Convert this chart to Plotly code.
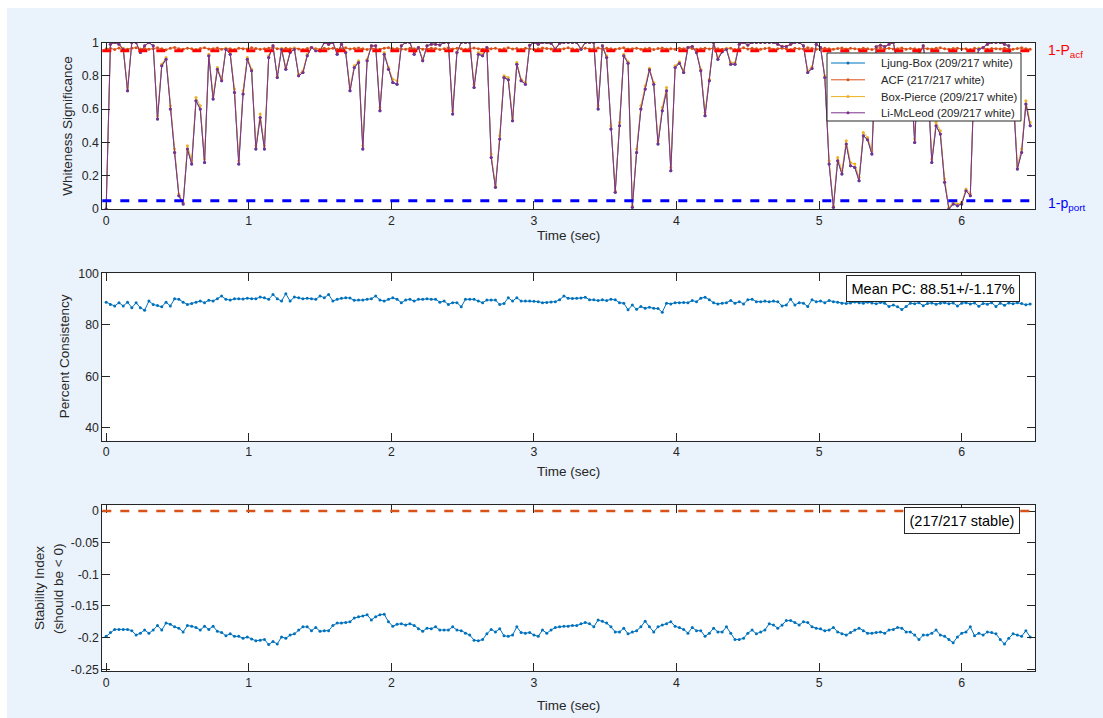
import plotly.graph_objects as go

W, H = 1103, 718
FONT = "Liberation Sans, Arial, Helvetica, sans-serif"
INK = "#262626"

# ---- data -------------------------------------------------------------
n_windows = 217
dt = 0.03
time_sec = [round(k * dt, 2) for k in range(n_windows)]

li_mcleod = [
    0.00, 0.99, 1.00, 0.99, 0.96, 0.71, 1.00, 1.00, 0.94, 0.98,
    1.00, 0.98, 0.54, 0.86, 0.90, 0.60, 0.34, 0.08, 0.03, 0.36,
    0.27, 0.65, 0.60, 0.28, 0.92, 0.66, 0.84, 0.77, 0.96, 0.93,
    0.70, 0.27, 0.69, 0.90, 0.83, 0.36, 0.55, 0.36, 0.91, 0.98,
    0.79, 0.96, 0.84, 0.94, 0.96, 0.80, 0.82, 0.92, 0.97, 0.95,
    0.95, 1.00, 0.99, 1.00, 0.93, 0.99, 0.94, 0.71, 0.85, 0.88,
    0.36, 0.89, 0.98, 0.98, 0.59, 0.93, 0.84, 0.76, 0.75, 0.98,
    1.00, 1.00, 0.93, 0.97, 0.89, 0.98, 0.99, 0.99, 0.985, 1.00,
    1.00, 0.57, 0.94, 1.00, 1.00, 1.00, 0.73, 0.93, 0.92, 0.97,
    0.31, 0.13, 0.42, 0.79, 0.776, 0.53, 0.87, 0.77, 0.75, 0.984,
    1.00, 0.99, 1.00, 1.00, 0.996, 0.96, 0.996, 1.00, 1.00, 1.00,
    1.00, 0.96, 1.00, 1.00, 1.00, 0.60, 0.98, 0.91, 0.48, 0.10,
    0.50, 0.92, 0.876, 0.01, 0.34, 0.60, 0.72, 0.836, 0.75, 0.39,
    0.59, 0.71, 0.23, 0.85, 0.876, 0.82, 0.97, 0.976, 0.94, 0.83,
    0.56, 0.77, 1.00, 0.90, 0.944, 0.96, 0.87, 0.87, 0.99, 1.00,
    0.985, 1.00, 1.00, 1.00, 1.00, 1.00, 1.00, 0.99, 0.976, 0.976,
    0.99, 1.00, 1.00, 0.98, 0.82, 0.844, 0.99, 0.97, 0.79, 0.27,
    0.01, 0.29, 0.21, 0.39, 0.26, 0.25, 0.17, 0.44, 0.416, 0.33,
    0.975, 0.984, 0.976, 0.99, 1.00, 0.88, 0.80, 0.90, 0.85, 0.40,
    0.93, 0.98, 0.80, 0.28, 0.50, 0.45, 0.16, 0.00, 0.03, 0.02,
    0.03, 0.11, 0.08, 0.85, 0.96, 0.97, 0.99, 1.00, 1.00, 1.00,
    0.99, 0.98, 0.70, 0.24, 0.34, 0.63, 0.50,
]

ljung_box = [
    0.00, 0.99, 1.00, 0.99, 0.96, 0.71, 1.00, 1.00, 0.94, 0.98,
    1.00, 0.98, 0.54, 0.86, 0.90, 0.60, 0.34, 0.08, 0.03, 0.36,
    0.27, 0.65, 0.60, 0.28, 0.92, 0.66, 0.84, 0.77, 0.96, 0.93,
    0.70, 0.27, 0.69, 0.90, 0.83, 0.36, 0.55, 0.36, 0.91, 0.98,
    0.79, 0.96, 0.84, 0.94, 0.96, 0.80, 0.82, 0.92, 0.97, 0.95,
    0.95, 1.00, 0.99, 1.00, 0.93, 0.99, 0.94, 0.71, 0.85, 0.88,
    0.36, 0.89, 0.98, 0.98, 0.59, 0.93, 0.84, 0.76, 0.75, 0.98,
    1.00, 1.00, 0.93, 0.97, 0.89, 0.98, 0.99, 0.99, 0.985, 1.00,
    1.00, 0.57, 0.94, 1.00, 1.00, 1.00, 0.73, 0.93, 0.92, 0.97,
    0.31, 0.13, 0.42, 0.79, 0.776, 0.53, 0.87, 0.77, 0.75, 0.984,
    1.00, 0.99, 1.00, 1.00, 0.996, 0.96, 0.996, 1.00, 1.00, 1.00,
    1.00, 0.96, 1.00, 1.00, 1.00, 0.60, 0.98, 0.91, 0.48, 0.10,
    0.50, 0.92, 0.876, 0.01, 0.34, 0.60, 0.72, 0.836, 0.75, 0.39,
    0.59, 0.71, 0.23, 0.85, 0.876, 0.82, 0.97, 0.976, 0.94, 0.83,
    0.56, 0.77, 1.00, 0.90, 0.944, 0.96, 0.87, 0.87, 0.99, 1.00,
    0.985, 1.00, 1.00, 1.00, 1.00, 1.00, 1.00, 0.99, 0.976, 0.976,
    0.99, 1.00, 1.00, 0.98, 0.82, 0.844, 0.99, 0.97, 0.79, 0.27,
    0.01, 0.29, 0.21, 0.39, 0.26, 0.25, 0.17, 0.44, 0.416, 0.33,
    0.975, 0.984, 0.976, 0.99, 1.00, 0.88, 0.80, 0.90, 0.85, 0.40,
    0.93, 0.98, 0.80, 0.28, 0.50, 0.45, 0.16, 0.00, 0.03, 0.02,
    0.03, 0.11, 0.08, 0.85, 0.96, 0.97, 0.99, 1.00, 1.00, 1.00,
    0.99, 0.98, 0.70, 0.24, 0.34, 0.63, 0.50,
]

box_pierce = [
    0.00, 0.99, 1.00, 0.99, 0.965, 0.73, 1.00, 1.00, 0.945, 0.98,
    1.00, 0.98, 0.56, 0.87, 0.91, 0.62, 0.36, 0.09, 0.04, 0.38,
    0.29, 0.67, 0.62, 0.30, 0.93, 0.68, 0.85, 0.78, 0.965, 0.94,
    0.72, 0.29, 0.71, 0.91, 0.84, 0.38, 0.57, 0.38, 0.92, 0.98,
    0.80, 0.965, 0.85, 0.945, 0.965, 0.81, 0.83, 0.93, 0.97, 0.955,
    0.955, 1.00, 0.99, 1.00, 0.94, 0.99, 0.945, 0.73, 0.86, 0.89,
    0.38, 0.90, 0.98, 0.98, 0.61, 0.94, 0.85, 0.78, 0.77, 0.98,
    1.00, 1.00, 0.94, 0.97, 0.90, 0.98, 0.99, 0.99, 0.985, 1.00,
    1.00, 0.59, 0.945, 1.00, 1.00, 1.00, 0.75, 0.94, 0.93, 0.97,
    0.33, 0.14, 0.44, 0.80, 0.79, 0.55, 0.88, 0.78, 0.76, 0.985,
    1.00, 0.99, 1.00, 1.00, 0.996, 0.965, 0.996, 1.00, 1.00, 1.00,
    1.00, 0.965, 1.00, 1.00, 1.00, 0.62, 0.98, 0.92, 0.50, 0.11,
    0.52, 0.93, 0.885, 0.02, 0.36, 0.62, 0.74, 0.845, 0.76, 0.41,
    0.61, 0.73, 0.25, 0.86, 0.885, 0.83, 0.97, 0.976, 0.945, 0.84,
    0.58, 0.78, 1.00, 0.91, 0.95, 0.965, 0.88, 0.88, 0.99, 1.00,
    0.985, 1.00, 1.00, 1.00, 1.00, 1.00, 1.00, 0.99, 0.978, 0.978,
    0.99, 1.00, 1.00, 0.98, 0.83, 0.855, 0.99, 0.97, 0.80, 0.29,
    0.02, 0.31, 0.23, 0.41, 0.28, 0.27, 0.19, 0.46, 0.43, 0.35,
    0.976, 0.985, 0.977, 0.99, 1.00, 0.89, 0.81, 0.91, 0.86, 0.42,
    0.94, 0.98, 0.81, 0.30, 0.52, 0.47, 0.18, 0.01, 0.04, 0.03,
    0.04, 0.12, 0.09, 0.86, 0.965, 0.97, 0.99, 1.00, 1.00, 1.00,
    0.99, 0.98, 0.72, 0.26, 0.36, 0.65, 0.52,
]

acf = [
    0.962, 0.965, 0.958, 0.967, 0.963, 0.960, 0.966, 0.969, 0.961, 0.964,
    0.959, 0.963, 0.968, 0.962, 0.957, 0.965, 0.970, 0.963, 0.960, 0.966,
    0.962, 0.958, 0.964, 0.969, 0.961, 0.963, 0.967, 0.960, 0.965, 0.962,
    0.958, 0.966, 0.963, 0.961, 0.968, 0.964, 0.959, 0.962, 0.966, 0.970,
    0.963, 0.960, 0.965, 0.962, 0.967, 0.961, 0.958, 0.964, 0.969, 0.963,
    0.960, 0.966, 0.962, 0.965, 0.959, 0.963, 0.968, 0.961, 0.964, 0.967,
    0.962, 0.958, 0.965, 0.963, 0.960, 0.966, 0.969, 0.962, 0.964, 0.961,
    0.959, 0.965, 0.963, 0.967, 0.960, 0.962, 0.966, 0.964, 0.958, 0.963,
    0.968, 0.961, 0.965, 0.962, 0.959, 0.964, 0.967, 0.963, 0.960, 0.966,
    0.962, 0.965, 0.958, 0.963, 0.969, 0.961, 0.964, 0.960, 0.966, 0.963,
    0.959, 0.962, 0.967, 0.964, 0.961, 0.965, 0.960, 0.963, 0.968, 0.962,
    0.958, 0.964, 0.966, 0.961, 0.963, 0.967, 0.960, 0.965, 0.962, 0.959,
    0.964, 0.968, 0.961, 0.963, 0.966, 0.960, 0.962, 0.965, 0.958, 0.964,
    0.967, 0.961, 0.963, 0.960, 0.966, 0.962, 0.969, 0.964, 0.959, 0.963,
    0.965, 0.961, 0.967, 0.962, 0.960, 0.964, 0.966, 0.958, 0.963, 0.968,
    0.961, 0.965, 0.962, 0.959, 0.964, 0.967, 0.960, 0.963, 0.966, 0.962,
    0.958, 0.965, 0.963, 0.961, 0.968, 0.964, 0.960, 0.962, 0.966, 0.963,
    0.959, 0.964, 0.967, 0.961, 0.965, 0.962, 0.960, 0.966, 0.963, 0.958,
    0.964, 0.969, 0.962, 0.965, 0.961, 0.963, 0.967, 0.960, 0.964, 0.962,
    0.959, 0.966, 0.963, 0.961, 0.965, 0.968, 0.962, 0.960, 0.964, 0.966,
    0.961, 0.963, 0.958, 0.965, 0.962, 0.967, 0.960, 0.964, 0.963, 0.961,
    0.966, 0.962, 0.959, 0.964, 0.968, 0.963, 0.960,
]

pct_consistency = [
    88.8, 87.9, 87.3, 88.6, 87.3, 88.8, 86.6, 88.6, 86.6, 85.7,
    89.2, 87.9, 87.5, 87.0, 88.8, 87.3, 90.1, 89.9, 88.8, 87.9,
    88.3, 88.8, 89.2, 88.6, 89.5, 89.2, 90.1, 91.2, 89.9, 89.6,
    90.1, 90.1, 90.0, 90.3, 90.1, 90.1, 90.8, 90.5, 89.9, 91.8,
    90.1, 89.2, 92.1, 89.2, 90.8, 90.5, 90.1, 90.3, 90.1, 89.9,
    91.2, 90.5, 91.8, 89.2, 89.9, 90.3, 90.5, 90.4, 89.5, 89.6,
    89.6, 89.9, 90.1, 91.2, 89.6, 89.2, 89.9, 90.5, 89.9, 88.6,
    89.6, 89.9, 89.2, 89.9, 89.9, 90.1, 89.9, 89.9, 88.8, 89.2,
    87.9, 88.6, 88.6, 87.0, 89.9, 89.9, 89.9, 89.2, 88.6, 89.6,
    89.6, 89.6, 87.9, 88.3, 90.5, 89.2, 90.5, 89.2, 89.2, 89.2,
    89.1, 89.0, 88.6, 88.7, 88.9, 89.0, 89.7, 91.2, 90.3, 90.2,
    90.3, 90.4, 90.7, 89.7, 89.7, 89.4, 89.7, 89.4, 89.9, 89.7,
    88.6, 88.4, 85.8, 87.7, 86.0, 87.1, 86.4, 86.8, 86.4, 86.3,
    84.9, 88.4, 88.1, 88.6, 88.6, 88.7, 88.6, 89.4, 89.0, 90.3,
    90.7, 89.7, 88.6, 88.1, 88.4, 88.6, 89.4, 88.4, 89.0, 88.1,
    89.7, 89.9, 89.0, 89.0, 89.2, 89.0, 89.2, 89.0, 87.3, 87.7,
    89.9, 87.7, 88.6, 88.4, 87.1, 89.7, 89.0, 89.2, 88.6, 89.4,
    89.0, 88.8, 88.4, 88.3, 88.5, 88.9, 88.6, 88.4, 88.8, 88.5,
    88.2, 88.7, 88.4, 87.1, 87.7, 87.0, 85.9, 87.1, 88.4, 88.2,
    88.6, 87.4, 88.3, 88.5, 88.0, 88.4, 88.6, 88.2, 88.5, 87.3,
    88.4, 88.6, 88.1, 88.5, 87.2, 88.3, 88.0, 88.6, 87.1, 88.4,
    87.6, 88.5, 88.2, 88.6, 88.3, 87.8, 88.1,
]

stability_index = [
    -0.198, -0.192, -0.187, -0.187, -0.187, -0.187, -0.189, -0.196, -0.193, -0.188,
    -0.193, -0.188, -0.181, -0.188, -0.177, -0.179, -0.183, -0.185, -0.191, -0.181,
    -0.182, -0.184, -0.188, -0.182, -0.187, -0.182, -0.190, -0.192, -0.197, -0.194,
    -0.198, -0.198, -0.201, -0.199, -0.202, -0.205, -0.204, -0.203, -0.211, -0.206,
    -0.210, -0.199, -0.201, -0.196, -0.194, -0.188, -0.183, -0.183, -0.189, -0.184,
    -0.190, -0.189, -0.189, -0.181, -0.177, -0.177, -0.176, -0.175, -0.169, -0.167,
    -0.166, -0.164, -0.172, -0.167, -0.164, -0.163, -0.175, -0.182, -0.179, -0.178,
    -0.180, -0.178, -0.181, -0.186, -0.190, -0.185, -0.186, -0.183, -0.188, -0.188,
    -0.188, -0.183, -0.188, -0.189, -0.193, -0.196, -0.204, -0.205, -0.203, -0.194,
    -0.187, -0.191, -0.186, -0.197, -0.198, -0.196, -0.183, -0.192, -0.193, -0.192,
    -0.196, -0.198, -0.188, -0.193, -0.188, -0.184, -0.183, -0.182, -0.182, -0.181,
    -0.181, -0.178, -0.176, -0.178, -0.183, -0.172, -0.174, -0.177, -0.183, -0.191,
    -0.191, -0.185, -0.194, -0.191, -0.189, -0.183, -0.174, -0.183, -0.191, -0.183,
    -0.180, -0.178, -0.175, -0.182, -0.184, -0.187, -0.193, -0.184, -0.189, -0.189,
    -0.198, -0.193, -0.185, -0.191, -0.191, -0.183, -0.193, -0.203, -0.203, -0.201,
    -0.193, -0.188, -0.194, -0.191, -0.188, -0.178, -0.180, -0.185, -0.180, -0.173,
    -0.173, -0.176, -0.180, -0.175, -0.176, -0.183, -0.185, -0.186, -0.189, -0.188,
    -0.184, -0.191, -0.194, -0.196, -0.192, -0.188, -0.185, -0.189, -0.193, -0.193,
    -0.192, -0.191, -0.193, -0.188, -0.187, -0.184, -0.185, -0.191, -0.191, -0.196,
    -0.203, -0.196, -0.196, -0.193, -0.188, -0.196, -0.198, -0.203, -0.208, -0.199,
    -0.193, -0.191, -0.183, -0.197, -0.193, -0.196, -0.191, -0.192, -0.194, -0.203,
    -0.210, -0.201, -0.194, -0.196, -0.198, -0.189, -0.199,
]

acf_threshold = 0.95      # 1 - P_acf
port_threshold = 0.05     # 1 - p_port
stability_limit = 0.0

series_names = [
    "Ljung-Box (209/217 white)",
    "ACF (217/217 white)",
    "Box-Pierce (209/217 white)",
    "Li-McLeod (209/217 white)",
]
mean_pc_text = "Mean PC: 88.51+/-1.17%"
stable_text = "(217/217 stable)"

x_ticks = [0, 1, 2, 3, 4, 5, 6]
ws_ticks = [0, 0.2, 0.4, 0.6, 0.8, 1]
ws_labels = ["0", "0.2", "0.4", "0.6", "0.8", "1"]
pc_ticks = [40, 60, 80, 100]
si_ticks = [0, -0.05, -0.1, -0.15, -0.2, -0.25]
si_labels = ["0", "-0.05", "-0.1", "-0.15", "-0.2", "-0.25"]

# MATLAB default line colours
C_BLUE, C_ORANGE, C_YELLOW, C_PURPLE = "#0072BD", "#D95319", "#EDB120", "#7E2F8E"
series_colors = [C_BLUE, C_ORANGE, C_YELLOW, C_PURPLE]


def px(x):
    return x / W


def py(y):
    return 1 - y / H


X_DOM = [px(102.3), px(1034.6)]
X_RANGE = [-0.027, 6.511]

fig = go.Figure()

# ---- top panel: whiteness tests ---------------------------------------
for name, vals, col in zip(series_names,
                           [ljung_box, acf, box_pierce, li_mcleod],
                           series_colors):
    fig.add_trace(go.Scatter(
        x=time_sec, y=vals, name=name, mode="lines+markers", showlegend=False,
        line=dict(color=col, width=1), marker=dict(color=col, size=3),
        xaxis="x", yaxis="y", hoverinfo="skip"))

# ---- middle panel: percent consistency ---------------------------------
fig.add_trace(go.Scatter(
    x=time_sec, y=pct_consistency, mode="lines+markers", showlegend=False,
    line=dict(color=C_BLUE, width=1), marker=dict(color=C_BLUE, size=3),
    xaxis="x2", yaxis="y2", hoverinfo="skip"))

# ---- bottom panel: stability index -------------------------------------
fig.add_trace(go.Scatter(
    x=time_sec, y=stability_index, mode="lines+markers", showlegend=False,
    line=dict(color=C_BLUE, width=1), marker=dict(color=C_BLUE, size=3),
    xaxis="x3", yaxis="y3", hoverinfo="skip"))

axis_common = dict(
    showline=True, linecolor=INK, linewidth=1, mirror="ticks",
    ticks="inside", ticklen=8, tickwidth=1, tickcolor=INK,
    showgrid=False, zeroline=False, automargin=False,
    tickfont=dict(family=FONT, size=12.3, color=INK),
)

fig.update_layout(
    xaxis=dict(axis_common, domain=X_DOM, range=X_RANGE, tickvals=x_ticks, anchor="y"),
    yaxis=dict(axis_common, domain=[py(209.0), py(42.5)], range=[0, 1],
               tickvals=ws_ticks, ticktext=ws_labels, anchor="x"),
    xaxis2=dict(axis_common, domain=X_DOM, range=X_RANGE, tickvals=x_ticks, anchor="y2"),
    yaxis2=dict(axis_common, domain=[py(440.7), py(273.3)], range=[35, 100],
                tickvals=pc_ticks, anchor="x2"),
    xaxis3=dict(axis_common, domain=X_DOM, range=X_RANGE, tickvals=x_ticks, anchor="y3"),
    yaxis3=dict(axis_common, domain=[py(671.0), py(505.3)], range=[-0.2527, 0.009],
                tickvals=si_ticks, ticktext=si_labels, anchor="x3"),
)

# threshold lines
shapes = [
    dict(type="line", xref="x domain", yref="y", x0=0, x1=1,
         y0=acf_threshold, y1=acf_threshold, layer="above",
         line=dict(color="#FF0000", width=3, dash="9px,9px")),
    dict(type="line", xref="x domain", yref="y", x0=0, x1=1,
         y0=port_threshold, y1=port_threshold, layer="above",
         line=dict(color="#0000FF", width=3, dash="9px,9px")),
    dict(type="line", xref="x3 domain", yref="y3", x0=0, x1=1,
         y0=stability_limit, y1=stability_limit, layer="above",
         line=dict(color=C_ORANGE, width=2.7, dash="9px,9px")),
]
# white border around the figure panel
for x0, y0, x1, y1 in [(0, 0, W, 8), (0, 0, 7, H)]:
    shapes.append(dict(type="rect", xref="paper", yref="paper",
                       x0=px(x0), x1=px(x1), y0=py(y1), y1=py(y0),
                       fillcolor="white", line=dict(width=0), layer="above"))

# legend box for the top panel (MATLAB-style: line sample with a dot)
LEG_L, LEG_R, LEG_T, LEG_B = 827, 1021, 53, 121
leg_rows = [63, 79.8, 96.6, 112.8]
shapes.append(dict(type="rect", xref="paper", yref="paper",
                   x0=px(LEG_L), x1=px(LEG_R), y0=py(LEG_B), y1=py(LEG_T),
                   fillcolor="white", line=dict(color=INK, width=1), layer="above"))
for row_y, col in zip(leg_rows, series_colors):
    shapes.append(dict(type="line", xref="paper", yref="paper",
                       x0=px(831), x1=px(865), y0=py(row_y), y1=py(row_y),
                       line=dict(color=col, width=1), layer="above"))
    shapes.append(dict(type="circle", xref="paper", yref="paper",
                       x0=px(846.5), x1=px(849.5), y0=py(row_y + 1.5), y1=py(row_y - 1.5),
                       fillcolor=col, line=dict(width=0), layer="above"))

label_font = dict(family=FONT, size=13.5, color=INK)
annotations = [
    dict(text="Whiteness Significance", x=px(68), y=py(125.7), textangle=-90, font=label_font),
    dict(text="Percent Consistency", x=px(64.5), y=py(356.7), textangle=-90, font=label_font),
    dict(text="Stability Index", x=px(39.5), y=py(588.5), textangle=-90, font=label_font),
    dict(text="(should be &lt; 0)", x=px(58.5), y=py(589.5), textangle=-90, font=label_font),
    dict(text="Time (sec)", x=px(568.5), y=py(236), font=label_font),
    dict(text="Time (sec)", x=px(568.5), y=py(472), font=label_font),
    dict(text="Time (sec)", x=px(568.5), y=py(705), font=label_font),
    dict(text="1-P<sub>acf</sub>", x=px(1046), y=py(51), xanchor="left",
         font=dict(family=FONT, size=14, color="#FF0000")),
    dict(text="1-p<sub>port</sub>", x=px(1046), y=py(204), xanchor="left",
         font=dict(family=FONT, size=14, color="#0000FF")),
    dict(text=mean_pc_text, x=px(1020), y=py(275), xanchor="right", yanchor="top",
         bgcolor="white", bordercolor=INK, borderwidth=1, borderpad=4.5,
         font=dict(family=FONT, size=14.5, color="black")),
    dict(text=stable_text, x=px(1020), y=py(507), xanchor="right", yanchor="top",
         bgcolor="white", bordercolor=INK, borderwidth=1, borderpad=4.5,
         font=dict(family=FONT, size=14.5, color="black")),
]
for name, row_y in zip(series_names, leg_rows):
    annotations.append(dict(text=name, x=px(879), y=py(row_y), xanchor="left",
                            font=dict(family=FONT, size=11.3, color=INK)))
for a in annotations:
    a.setdefault("xref", "paper")
    a.setdefault("yref", "paper")
    a.setdefault("showarrow", False)
    a.setdefault("xanchor", "center")
    a.setdefault("yanchor", "middle")

fig.update_layout(
    width=W, height=H,
    margin=dict(l=0, r=0, t=0, b=0),
    paper_bgcolor="#EAF2FB",
    plot_bgcolor="white",
    font=dict(family=FONT, color=INK),
    shapes=shapes,
    annotations=annotations,
    hovermode=False,
    showlegend=False,
)

fig.write_html("out.html")
